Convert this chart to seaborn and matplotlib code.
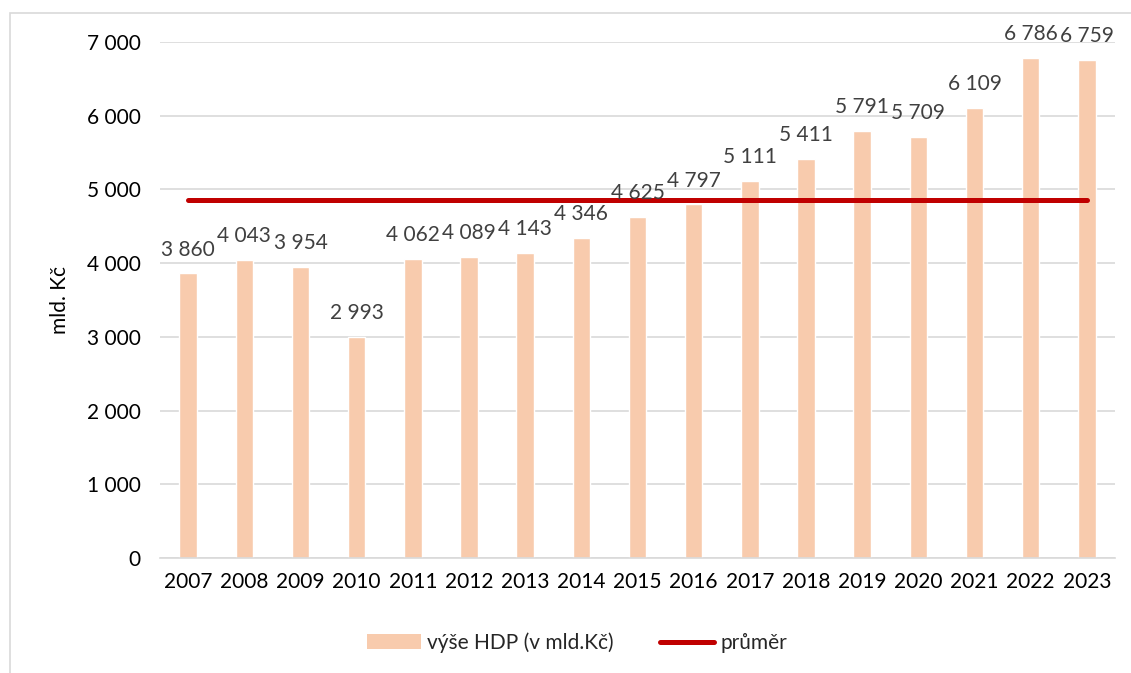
import matplotlib
matplotlib.use("Agg")
import matplotlib.pyplot as plt
from matplotlib.patches import Rectangle, Patch
from matplotlib.lines import Line2D
import seaborn as sns
import pandas as pd

years = ["2007", "2008", "2009", "2010", "2011", "2012", "2013", "2014", "2015",
         "2016", "2017", "2018", "2019", "2020", "2021", "2022", "2023"]
hdp = [3860, 4043, 3954, 2993, 4062, 4089, 4143, 4346, 4625,
       4797, 5111, 5411, 5791, 5709, 6109, 6786, 6759]
prumer = [4858] * len(years)
yticks = [0, 1000, 2000, 3000, 4000, 5000, 6000, 7000]

sns.set_theme(style="white")
plt.rcParams["font.family"] = ["Lato", "DejaVu Sans"]

BAR = "#F8CBAD"
LINE = "#C00000"
GRID = "#D9D9D9"
FS = 15

fig = plt.figure(figsize=(11.31, 6.73), dpi=100)
ax = fig.add_axes([160 / 1131, 1 - 558 / 673, (1115 - 160) / 1131, (558 - 42) / 673])

df = pd.DataFrame({"rok": years, "hdp": hdp})
sns.barplot(data=df, x="rok", y="hdp", color=BAR, saturation=1, width=0.31, ax=ax)
ax.plot(range(len(years)), prumer, color=LINE, lw=3.6, solid_capstyle="round", zorder=3)

labels = [f"{v:,}".replace(",", " ") for v in hdp]
texts = ax.bar_label(ax.containers[0], labels=labels, padding=10, fontsize=FS, color="#404040")
for t in texts:
    t.set_zorder(5)

ax.set_ylim(0, 7000)
ax.set_xlim(-0.5, len(years) - 0.5)
ax.set_yticks(yticks)
ax.set_yticklabels([f"{v:,}".replace(",", " ") for v in yticks])
ax.yaxis.grid(True, color=GRID, lw=1.2)
ax.set_axisbelow(True)
for s in ["top", "right", "left"]:
    ax.spines[s].set_visible(False)
ax.spines["bottom"].set_color(GRID)
ax.spines["bottom"].set_linewidth(1.2)
ax.tick_params(axis="both", length=0, labelsize=FS, colors="#000000")
ax.tick_params(axis="y", pad=14)
ax.tick_params(axis="x", pad=10)
ax.set_xlabel("")
ax.set_ylabel("mld. Kč", fontsize=FS, color="#000000", labelpad=12)

fig.patches.append(Rectangle((10 / 1131, -0.1), 1.2, 1 - 13 / 673 + 0.1,
                             transform=fig.transFigure, fill=False,
                             edgecolor=GRID, lw=1.2))

handles = [Patch(facecolor=BAR, edgecolor="none"),
           Line2D([0], [0], color=LINE, lw=3.6, solid_capstyle="round")]
fig.legend(handles, ["výše HDP (v mld.Kč)", "průměr"], loc="center",
           bbox_to_anchor=(0.51, 0.045), ncol=2, frameon=False, fontsize=FS,
           handlelength=2.6, handletextpad=0.3, columnspacing=2.2)

fig.savefig("out.png", dpi=100)
